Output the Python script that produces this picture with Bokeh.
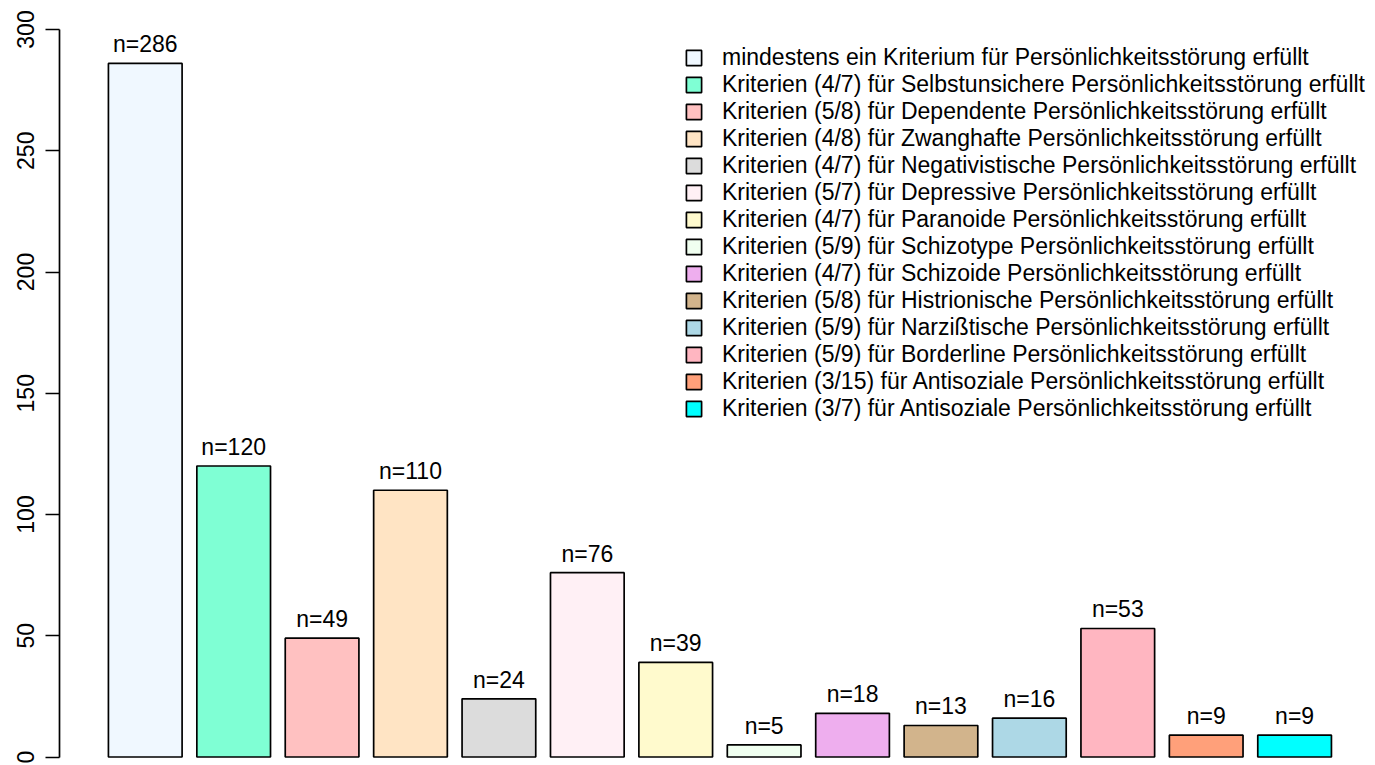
from bokeh.plotting import figure
from bokeh.models import ColumnDataSource, FixedTicker, Legend, LegendItem, Range1d
from bokeh.core.properties import value
from bokeh.embed import file_html
from bokeh.resources import INLINE

labels = [
    "mindestens ein Kriterium für Persönlichkeitsstörung erfüllt",
    "Kriterien (4/7) für Selbstunsichere Persönlichkeitsstörung erfüllt",
    "Kriterien (5/8) für Dependente Persönlichkeitsstörung erfüllt",
    "Kriterien (4/8) für Zwanghafte Persönlichkeitsstörung erfüllt",
    "Kriterien (4/7) für Negativistische Persönlichkeitsstörung erfüllt",
    "Kriterien (5/7) für Depressive Persönlichkeitsstörung erfüllt",
    "Kriterien (4/7) für Paranoide Persönlichkeitsstörung erfüllt",
    "Kriterien (5/9) für Schizotype Persönlichkeitsstörung erfüllt",
    "Kriterien (4/7) für Schizoide Persönlichkeitsstörung erfüllt",
    "Kriterien (5/8) für Histrionische Persönlichkeitsstörung erfüllt",
    "Kriterien (5/9) für Narzißtische Persönlichkeitsstörung erfüllt",
    "Kriterien (5/9) für Borderline Persönlichkeitsstörung erfüllt",
    "Kriterien (3/15) für Antisoziale Persönlichkeitsstörung erfüllt",
    "Kriterien (3/7) für Antisoziale Persönlichkeitsstörung erfüllt",
]
counts = [286, 120, 49, 110, 24, 76, 39, 5, 18, 13, 16, 53, 9, 9]
colors = ["#F0F8FF", "#7FFFD4", "#FFC1C1", "#FFE4C4", "#DCDCDC", "#FFF0F5",
          "#FFFACD", "#F0FFF0", "#EEAEEE", "#D2B48C", "#ADD8E6", "#FFB6C1",
          "#FFA07A", "#00FFFF"]
y_ticks = [0, 50, 100, 150, 200, 250, 300]

FONT = "Liberation Sans"

# R barplot positions: width 1, space 0.2
xs = [0.7 + 1.2 * i for i in range(len(counts))]
src = ColumnDataSource(dict(
    x=xs, top=counts, color=colors,
    lab=[f"n={c}" for c in counts],
))

p = figure(width=1375, height=765, output_backend="svg", toolbar_location=None,
           x_range=Range1d(-0.464, 17.398), y_range=Range1d(-3.505, 311.96),
           min_border_left=59, min_border_right=0, min_border_top=0,
           min_border_bottom=0, background_fill_color="white",
           border_fill_color="white", outline_line_color=None)
p.xaxis.visible = False
p.xgrid.visible = False
p.ygrid.visible = False

bars = p.vbar(x="x", top="top", bottom=0, width=1.0, source=src,
              fill_color="color", line_color="black", line_width=1.7)

p.text(x="x", y="top", text="lab", source=src, text_align="center",
       text_baseline="alphabetic", y_offset=-19, text_font_size="23px",
       text_font=value(FONT), text_color="black")

ax = p.yaxis[0]
ax.ticker = FixedTicker(ticks=y_ticks)
ax.bounds = (0, 300)
ax.major_tick_in = 0
ax.major_tick_out = 14
ax.minor_tick_line_color = None
ax.axis_line_width = 1.7
ax.major_tick_line_width = 1.7
ax.major_label_orientation = "vertical"
ax.major_label_text_font = FONT
ax.major_label_text_font_size = "23px"
ax.major_label_text_color = "black"
ax.major_label_standoff = 11

items = [LegendItem(label=labels[i], renderers=[bars], index=i) for i in range(len(labels))]
legend = Legend(items=items, location=(625, 343), orientation="vertical",
                label_text_font=FONT, label_text_font_size="23px",
                label_text_color="black", glyph_width=19, glyph_height=19,
                label_standoff=19, spacing=0, padding=0, margin=0,
                border_line_color=None, background_fill_alpha=0,
                label_height=26, label_text_baseline="middle")
p.add_layout(legend, "center")

open("out.html", "w").write(file_html(p, INLINE))
